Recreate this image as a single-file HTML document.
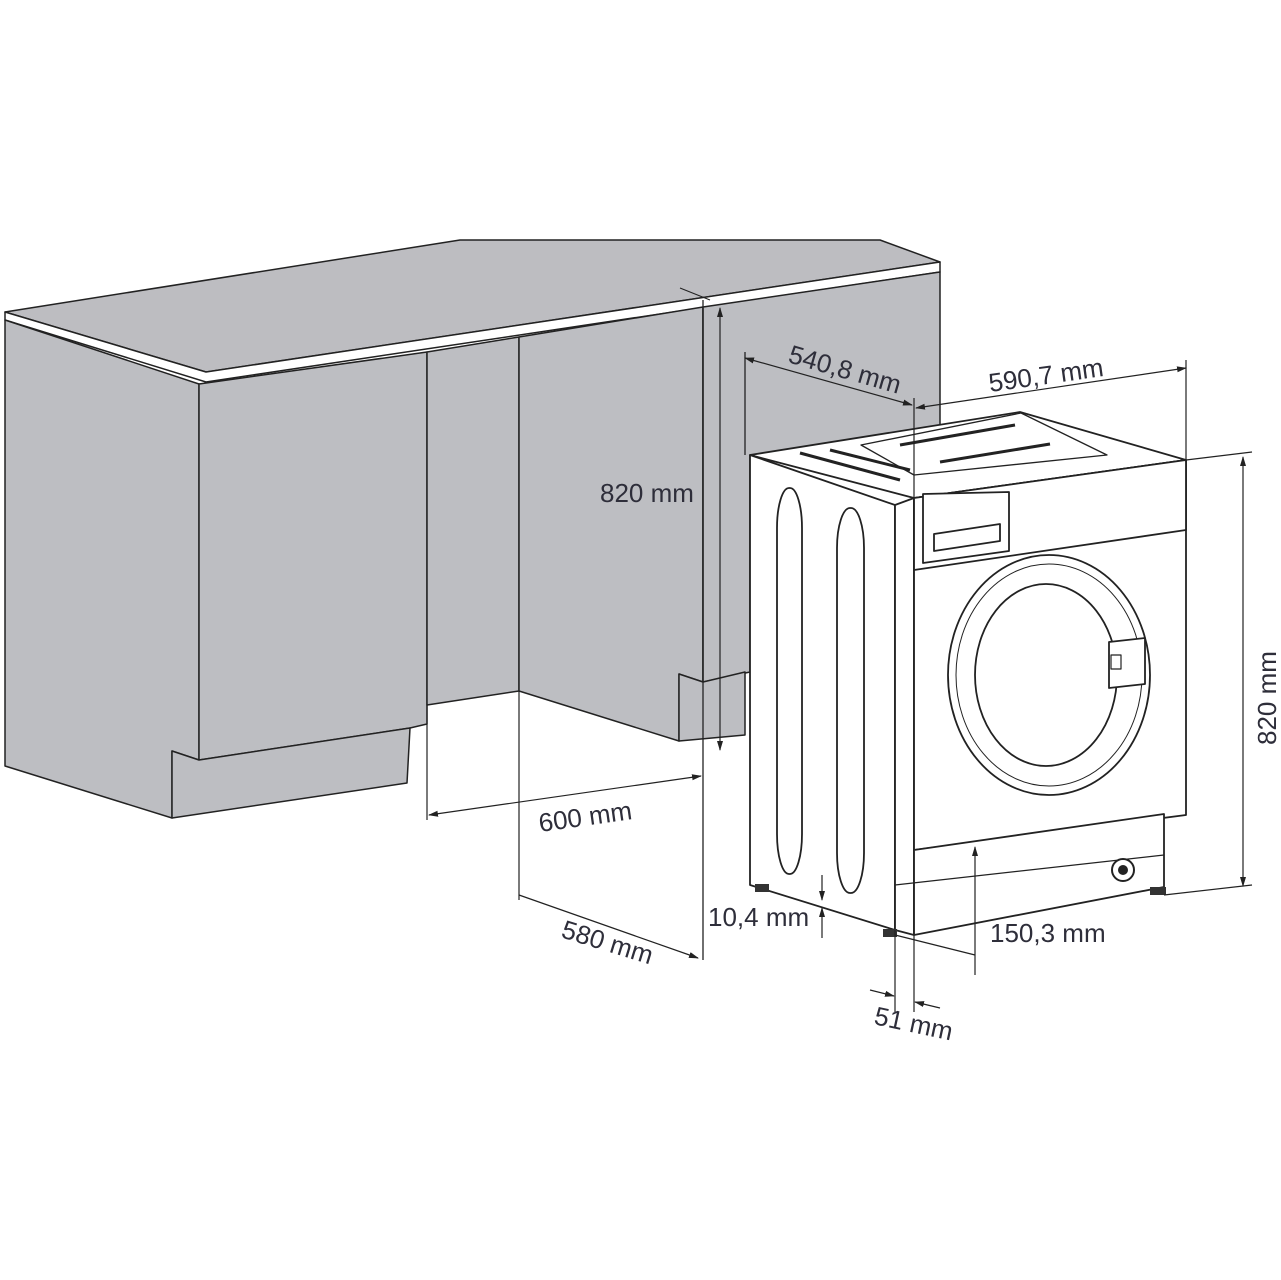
<!DOCTYPE html>
<html><head><meta charset="utf-8"><style>
html,body{margin:0;padding:0;background:#fff}
svg{display:block}
text{font-family:"Liberation Sans",sans-serif;font-size:26px;fill:#2e2e3a}
</style></head><body>
<svg width="1281" height="1280" viewBox="0 0 1281 1280" xmlns="http://www.w3.org/2000/svg">
<defs>
<marker id="a" markerWidth="10" markerHeight="8" refX="9" refY="4" orient="auto-start-reverse" markerUnits="userSpaceOnUse"><path d="M0,1 L10,4 L0,7 Z" fill="#222"/></marker>
</defs>
<g stroke="#222" stroke-width="1.5" stroke-linejoin="round">
<polygon points="5,312 460,240 880,240 940,262 206,372" fill="#bdbdc1"/>
<polygon points="5,312 206,372 940,262 940,272 206,382 5,320" fill="#fff"/>
<polygon points="5,320 199,384 199,760 172,751 172,818 5,766" fill="#bdbec2"/>
<polygon points="199,384 427,352 427,724 410,728 199,760" fill="#bdbec2"/>
<polygon points="172,751 199,760 410,728 407,783 172,818" fill="#bdbec2"/>
<polygon points="427,352 519,337 519,691 427,705" fill="#bdbec2"/>
<polygon points="519,337 703,307 703,682 679,674 679,741 519,691" fill="#bdbec2"/>
<polygon points="703,307 940,272 940,455 750,455 750,672 703,682" fill="#bdbec2"/>
<polygon points="679,674 703,682 745,672 745,735 679,741" fill="#bdbec2"/>
</g>
<line x1="703" y1="300" x2="703" y2="960" stroke="#222" stroke-width="1.3"/>
<line x1="745" y1="352" x2="745" y2="455" stroke="#222" stroke-width="1.3"/>
<line x1="680" y1="288" x2="710" y2="300" stroke="#222" stroke-width="1"/>
<g stroke="#222" stroke-width="1.8" fill="#fff" stroke-linejoin="round">
<polygon points="750,455 1020,412 1186,460 914,498"/>
<polygon points="750,455 895,505 895,930 750,885"/>
<polygon points="895,505 914,498 914,935 895,930"/>
<polygon points="914,498 1186,460 1186,815 914,850"/>
<polygon points="914,498 1186,460 1186,530 914,570"/>
<polygon points="914,850 1164,814 1164,887 914,935"/>
<polygon points="923,494 1009,492 1009,551 923,563"/>
<polygon points="934,534 1000,524 1000,541 934,551"/>
<ellipse cx="1049" cy="675" rx="101" ry="120"/>
<ellipse cx="1049" cy="675" rx="93" ry="111" stroke-width="1"/>
<ellipse cx="1046" cy="675" rx="71" ry="91"/>
<polygon points="1109,642 1145,638 1145,684 1109,688"/>
<rect x="1111" y="655" width="10" height="14" stroke-width="1.2"/>
<rect x="777" y="488" width="25" height="386" rx="12" ry="40"/>
<rect x="837" y="508" width="27" height="385" rx="13" ry="40"/>
<polygon points="861,445 1021,413 1107,455 914,475" stroke-width="1.3"/>
<line x1="900" y1="445" x2="1015" y2="425" stroke-width="3"/>
<line x1="940" y1="462" x2="1050" y2="444" stroke-width="3"/>
<line x1="800" y1="453" x2="900" y2="480" stroke-width="3"/>
<line x1="830" y1="450" x2="910" y2="470" stroke-width="3"/>
<line x1="895" y1="885" x2="1164" y2="855" stroke-width="1.2"/>
</g>
<circle cx="1123" cy="870" r="11" fill="#fff" stroke="#222" stroke-width="2"/>
<circle cx="1123" cy="870" r="5" fill="#222"/>
<rect x="755" y="884" width="14" height="8" fill="#333"/>
<rect x="883" y="929" width="14" height="8" fill="#333"/>
<rect x="1150" y="887" width="16" height="8" fill="#333"/>
<g stroke="#222" stroke-width="1.2" fill="none">
<line x1="745" y1="358" x2="912" y2="405" marker-start="url(#a)" marker-end="url(#a)"/>
<line x1="914" y1="398" x2="914" y2="1012"/>
<line x1="895" y1="930" x2="895" y2="1012"/>
<line x1="916" y1="408" x2="1186" y2="368" marker-start="url(#a)" marker-end="url(#a)"/>
<line x1="1186" y1="360" x2="1186" y2="462"/>
<line x1="1186" y1="460" x2="1252" y2="452"/>
<line x1="1164" y1="895" x2="1252" y2="885"/>
<line x1="1243" y1="457" x2="1243" y2="886" marker-start="url(#a)" marker-end="url(#a)"/>
<line x1="720" y1="308" x2="720" y2="750" marker-start="url(#a)" marker-end="url(#a)"/>
<line x1="427" y1="705" x2="427" y2="820"/>
<line x1="519" y1="691" x2="519" y2="900"/>
<line x1="429" y1="815" x2="701" y2="776" marker-start="url(#a)" marker-end="url(#a)"/>
<line x1="519" y1="895" x2="698" y2="958" marker-end="url(#a)"/>
<line x1="822" y1="875" x2="822" y2="900" marker-end="url(#a)"/>
<line x1="822" y1="938" x2="822" y2="908" marker-end="url(#a)"/>
<line x1="975" y1="975" x2="975" y2="847" marker-end="url(#a)"/>
<line x1="870" y1="990" x2="894" y2="996" marker-end="url(#a)"/>
<line x1="940" y1="1008" x2="915" y2="1002" marker-end="url(#a)"/>
<line x1="895" y1="935" x2="975" y2="955"/>
</g>
<text transform="translate(787,362) rotate(16)">540,8 mm</text>
<text transform="translate(990,392) rotate(-8)">590,7 mm</text>
<text transform="translate(1276,745) rotate(-90)">820 mm</text>
<text x="600" y="502">820 mm</text>
<text transform="translate(540,832) rotate(-8)">600 mm</text>
<text transform="translate(560,937) rotate(17)">580 mm</text>
<text x="708" y="926">10,4 mm</text>
<text x="990" y="942">150,3 mm</text>
<text transform="translate(873,1024) rotate(12)">51 mm</text>
</svg>
</body></html>
